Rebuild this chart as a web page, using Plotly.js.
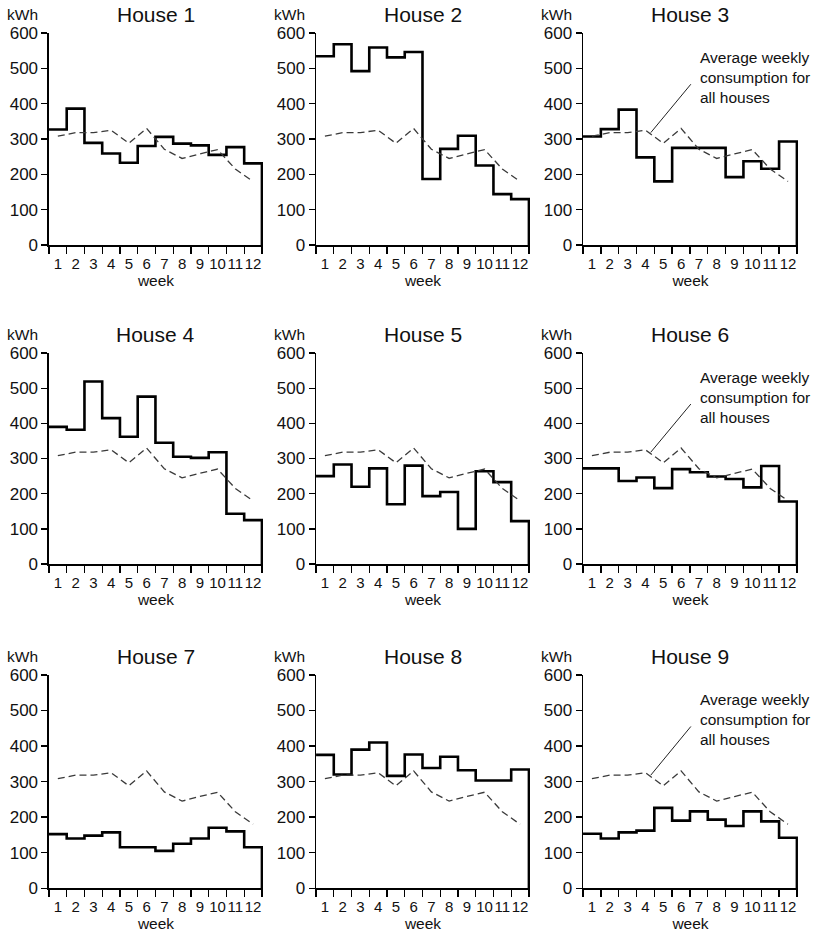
<!DOCTYPE html>
<html>
<head>
<meta charset="utf-8">
<script src="https://cdn.plot.ly/plotly-3.0.1.min.js"></script>
<style>html,body{margin:0;padding:0;background:#fff;}#chart{width:816px;height:932px;}</style>
</head>
<body>
<div id="chart"></div>
<script>
// ---- data ----
const weeks = [1,2,3,4,5,6,7,8,9,10,11,12];
const weekLabels = ['1','2','3','4','5','6','7','8','9','10','11','12'];
const average = [308, 318, 318, 325, 288, 330, 271, 245, 258, 270, 215, 180];
const house1 = [327, 386, 289, 259, 233, 280, 306, 287, 282, 255, 277, 231];
const house2 = [534, 568, 492, 559, 531, 546, 187, 272, 309, 225, 144, 130];
const house3 = [307, 328, 383, 248, 180, 275, 275, 275, 192, 237, 216, 293];
const house4 = [390, 382, 519, 415, 362, 476, 345, 305, 302, 318, 143, 125];
const house5 = [250, 283, 220, 272, 170, 280, 193, 205, 100, 264, 233, 122];
const house6 = [272, 272, 236, 246, 216, 270, 261, 249, 242, 218, 279, 178];
const house7 = [152, 140, 148, 157, 115, 115, 105, 125, 140, 170, 160, 115];
const house8 = [375, 320, 390, 410, 316, 376, 338, 370, 332, 303, 303, 334];
const house9 = [153, 140, 157, 162, 226, 190, 216, 193, 175, 216, 188, 142];
const houses = [house1, house2, house3, house4, house5, house6, house7, house8, house9];
const titles = ['House 1','House 2','House 3','House 4','House 5','House 6','House 7','House 8','House 9'];
const noteText = 'Average weekly<br>consumption for<br>all houses';
const notePanels = [3, 6, 9];

// ---- layout geometry ----
const colDom = [[0.0600, 0.3223], [0.3873, 0.6495], [0.7145, 0.9779]];
const rowDom = [[0.7371, 0.9646], [0.3948, 0.6212], [0.0470, 0.2758]];
const FONT = '"Liberation Sans", Arial, Helvetica, sans-serif';

const traces = [];
const layout = {
  width: 816, height: 932,
  margin: {l: 0, r: 0, t: 0, b: 0},
  paper_bgcolor: '#fff', plot_bgcolor: '#fff',
  showlegend: false,
  font: {family: FONT, color: '#111'},
  annotations: [], shapes: []
};

houses.forEach((vals, i) => {
  const n = i + 1;
  const xs = n === 1 ? 'x' : 'x' + n;
  const ys = n === 1 ? 'y' : 'y' + n;
  const xk = n === 1 ? 'xaxis' : 'xaxis' + n;
  const yk = n === 1 ? 'yaxis' : 'yaxis' + n;
  const col = i % 3, row = Math.floor(i / 3);

  // step outline: each week value spans [w-1, w], then drop to 0 at the end
  const sx = weeks.map(w => w - 1).concat([weeks[weeks.length - 1], weeks[weeks.length - 1]]);
  const sy = vals.concat([vals[vals.length - 1], 0]);
  traces.push({
    type: 'scatter', mode: 'lines', x: sx, y: sy, xaxis: xs, yaxis: ys,
    line: {shape: 'hv', color: '#000', width: 2.6}, hoverinfo: 'skip'
  });
  // average dashed line at week centres
  traces.push({
    type: 'scatter', mode: 'lines', x: weeks.map(w => w - 0.5), y: average,
    xaxis: xs, yaxis: ys,
    line: {color: '#3a3a3a', width: 1.3, dash: '7px,4px'}, hoverinfo: 'skip'
  });

  layout[xk] = {
    domain: colDom[col], anchor: ys, range: [0, 12.06], fixedrange: true,
    showgrid: false, zeroline: false,
    showline: true, linecolor: '#000', linewidth: 1.5,
    tickmode: 'array', tickvals: weeks.map(w => w - 0.5), ticktext: weekLabels,
    tickangle: 0,
    ticks: 'outside', ticklen: 4, tickcolor: 'rgba(0,0,0,0)',
    tickfont: {family: FONT, size: 15, color: '#111'},
    minor: {tickmode: 'linear', tick0: 0, dtick: 1, ticks: 'outside', ticklen: 7, tickwidth: 1.3, tickcolor: '#000', showgrid: false},
    title: {text: 'week', standoff: 4, font: {family: FONT, size: 15.5, color: '#111'}}
  };
  layout[yk] = {
    domain: rowDom[row], anchor: xs, range: [0, 600], fixedrange: true,
    showgrid: false, zeroline: false,
    showline: true, linecolor: '#000', linewidth: 1.5,
    tickmode: 'array', tickvals: [0, 100, 200, 300, 400, 500, 600],
    ticks: 'outside', ticklen: 6, tickwidth: 1.3, tickcolor: '#000',
    tickfont: {family: FONT, size: 17, color: '#111'}
  };

  layout.annotations.push({
    xref: xs + ' domain', yref: ys + ' domain', x: 0.5, y: 1,
    xanchor: 'center', yanchor: 'bottom', yshift: 5, showarrow: false,
    text: titles[i], font: {family: FONT, size: 21, color: '#111'}
  });
  layout.annotations.push({
    xref: xs + ' domain', yref: ys + ' domain', x: 0, y: 1,
    xanchor: 'right', yanchor: 'bottom', xshift: -9, yshift: 8, showarrow: false,
    text: 'kWh', font: {family: FONT, size: 15.5, color: '#111'}
  });

  if (notePanels.includes(n)) {
    layout.annotations.push({
      xref: xs, yref: ys, x: 6.45, y: 560, xanchor: 'left', yanchor: 'top',
      align: 'left', showarrow: false, text: noteText,
      font: {family: FONT, size: 15.5, color: '#111'}
    });
    layout.shapes.push({
      type: 'line', xref: xs, yref: ys, x0: 3.8, y0: 318, x1: 6.05, y1: 455,
      line: {color: '#222', width: 1}
    });
  }
});

Plotly.newPlot('chart', traces, layout, {staticPlot: true, displayModeBar: false});
</script>
</body>
</html>
